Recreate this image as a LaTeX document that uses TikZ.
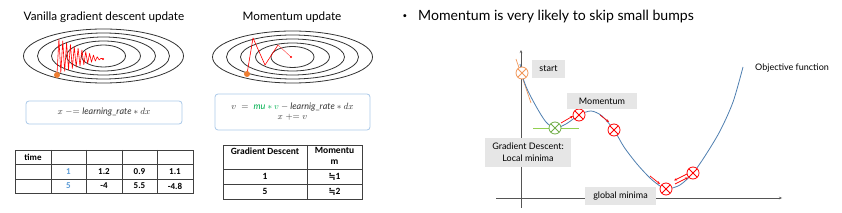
\documentclass[tikz,border=0pt]{standalone}
\usepackage{fontspec}
\setmainfont{Lato}
\newfontfamily\tabfont{Carlito}
\newfontfamily\djv{DejaVu Sans}
\usetikzlibrary{arrows.meta}
\definecolor{curveblue}{HTML}{4F7FB0}
\definecolor{boxblue}{HTML}{A9C8E8}
\definecolor{mgreen}{HTML}{00B050}
\definecolor{ptorange}{HTML}{ED7D31}
\definecolor{lblgray}{HTML}{E6E6E6}
\definecolor{numblue}{HTML}{5B9BD5}
\definecolor{tgreen}{HTML}{92D050}
\definecolor{cgreen}{HTML}{70AD47}
\definecolor{axisgray}{HTML}{555555}
\definecolor{txtgray}{HTML}{333333}
\begin{document}
\begin{tikzpicture}[x=1pt,y=-1pt,
  title/.style={font=\fontsize{11.7}{14}\selectfont, text=black, inner sep=0},
  ell/.style={draw=black!80, line width=0.8pt},
  fbox/.style={draw=boxblue, rounded corners=3pt, line width=0.8pt, align=center,
    font=\fontsize{9}{11}\selectfont, text=txtgray},
  tgrid/.style={draw=black!75, line width=0.8pt},
  tcell/.style={font=\tabfont\bfseries\fontsize{9}{10.5}\selectfont, inner sep=0, align=center},
  lbl/.style={fill=lblgray, font=\fontsize{9}{11}\selectfont, inner sep=0, align=center},
  xm/.style={circle, draw=#1, fill=white, line width=0.8pt, minimum size=12pt, inner sep=0,
    path picture={\draw[#1, line width=0.8pt]
      (path picture bounding box.north west)--(path picture bounding box.south east)
      (path picture bounding box.north east)--(path picture bounding box.south west);}},
  rarr/.style={draw=red, line width=0.7pt, -{Stealth[length=3pt,width=2.5pt]}},
  axis/.style={draw=axisgray, line width=0.6pt, -{Stealth[length=3pt,width=2.5pt]}}
]
\useasboundingbox (0,0) rectangle (842,213);

% titles
\node[title] (t1) at (104,17) {Vanilla gradient descent update};
\node[title] (t2) at (292,17) {Momentum update};
\node[font=\fontsize{8}{10}\selectfont, inner sep=0] (bul) at (405,17) {•};
\node[font=\fontsize{14.1}{17}\selectfont, anchor=west, inner sep=0] (t3) at (418,17) {Momentum is very likely to skip small bumps};

% vanilla ellipses
\foreach \a/\b in {80/27, 66/23, 52/19, 37/15, 22/11}
  \draw[ell] (103.5,56) ellipse [x radius=\a, y radius=\b];
\draw[red, line width=0.6pt, line join=round]
  plot[samples=25, domain=0:24, variable=\i] ({57+46*\i/24}, {56+3*\i/24 + cos(180*\i)*18*(1-\i/24)^1.1});
\fill[ptorange] (57,75) circle [radius=3];
\fill[red] (103,59) circle [radius=1.2];

% momentum ellipses
\foreach \a/\b in {80/26, 66/22, 52/18, 37/14, 21.5/10.5}
  \draw[ell] (292.5,57) ellipse [x radius=\a, y radius=\b];
\draw[red, line width=0.6pt, line join=round] (247,74) -- (253,38) -- (265,65) -- (278,45);
\draw[red!80, line width=0.4pt] (278,45) -- (291,57);
\fill[ptorange] (247,74) circle [radius=3];
\fill[red] (291,57) circle [radius=1.2];

% formula boxes
\node[fbox, minimum width=156pt, minimum height=23pt] (f1) at (104,112.5)
  {$x \mathrel{{-}{=}} \mathit{learning\_rate} * dx$};
\node[fbox, minimum width=155pt, minimum height=36pt] (f2) at (292.5,112)
  {$v \;=\; {\color{mgreen}\mathit{mu} * v} - \mathit{learnig\_rate} * dx$\\[-1pt] $x \mathrel{{+}{=}} v$};

% left table
\draw[tgrid] (15,150) rectangle (193,193);
\foreach \y in {164,179} \draw[tgrid] (15,\y) -- (193,\y);
\foreach \x in {51,86,122,157} \draw[tgrid] (\x,150) -- (\x,193);
\node[tcell] (c11) at (33,157) {time};
\node[tcell, text=numblue] (c22) at (68.5,171.5) {1};
\node[tcell] (c23) at (104,171.5) {1.2};
\node[tcell] (c24) at (139.5,171.5) {0.9};
\node[tcell] (c25) at (175,171.5) {1.1};
\node[tcell, text=numblue] (c32) at (68.5,186) {5};
\node[tcell] (c33) at (104,186) {-4};
\node[tcell] (c34) at (139.5,186) {5.5};
\node[tcell] (c35) at (175,186) {-4.8};

% right table
\draw[tgrid] (223,145) rectangle (362,199);
\foreach \y in {169,184} \draw[tgrid] (223,\y) -- (362,\y);
\draw[tgrid] (307,145) -- (307,199);
\node[tcell, anchor=north, font=\tabfont\bfseries\fontsize{9.5}{11}\selectfont] (d11) at (265,147.5) {Gradient Descent};
\node[tcell, anchor=north, font=\tabfont\bfseries\fontsize{9.5}{11}\selectfont] (d12) at (334.5,147.5) {Momentu\\m};
\node[tcell, font=\tabfont\bfseries\fontsize{9.5}{11}\selectfont] (d21) at (265,176.5) {1};
\node[tcell, font=\tabfont\bfseries\fontsize{9.5}{11}\selectfont] (d22) at (334.5,176.5) {{\djv\fontsize{8.5}{10}\selectfont ≒}1};
\node[tcell, font=\tabfont\bfseries\fontsize{9.5}{11}\selectfont] (d31) at (265,191.5) {5};
\node[tcell, font=\tabfont\bfseries\fontsize{9.5}{11}\selectfont] (d32) at (334.5,191.5) {{\djv\fontsize{8.5}{10}\selectfont ≒}2};

% right plot axes
\coordinate (yb) at (521,208);
\coordinate (yt) at (521,50);
\coordinate (xl) at (496,198);
\coordinate (xr) at (782,198);
\draw[axis] (yb) -- (yt);
\draw[axis] (xl) -- (xr);

% tangents
\coordinate (ot1) at (516,59);
\coordinate (ot2) at (531,103);
\draw[ptorange!80, line width=0.7pt] (ot1) -- (ot2);
\coordinate (gt1) at (533,128);
\coordinate (gt2) at (579,128);
\draw[tgreen, line width=0.7pt] (gt1) -- (gt2);

% curve
\draw[curveblue, line width=0.8pt] plot[smooth, tension=0.5] coordinates {
 (520,64) (523,78) (528,91) (537,108) (546,122) (555,128) (566,124) (579,115)
 (591,111) (602,116) (614,130) (624,147) (637,164) (650,178) (660,186) (667,189)
 (680,185) (693,173) (705,156) (720,131) (733,102) (743,67)};

% markers
\node[xm=ptorange!80] (ms) at (522,73) {};
\node[xm=cgreen] (mg) at (555,128) {};
\node[xm=red] (m1) at (579,115) {};
\node[xm=red] (m2) at (614,130) {};
\node[xm=red] (m3) at (666,189) {};
\node[xm=red] (m4) at (693,173) {};

% red arrows
\coordinate (a1s) at (561,123); \coordinate (a1e) at (573,116);
\draw[rarr] (a1s) -- (a1e);
\coordinate (a2s) at (600,115); \coordinate (a2e) at (609,122);
\draw[rarr] (a2s) -- (a2e);
\coordinate (a3s) at (650,176); \coordinate (a3e) at (660,184);
\draw[rarr] (a3s) -- (a3e);
\coordinate (a4s) at (687,174); \coordinate (a4e) at (674,180.5);
\draw[rarr] (a4s) -- (a4e);
\coordinate (a5s) at (675,184); \coordinate (a5e) at (688,177.5);
\draw[rarr] (a5s) -- (a5e);

% labels
\node[lbl, minimum width=33pt, minimum height=18pt] (ls) at (548.5,69) {start};
\node[lbl, minimum width=70pt, minimum height=16pt] (lm) at (602,101) {Momentum};
\node[lbl, minimum width=86pt, minimum height=29pt, font=\fontsize{9}{12}\selectfont] (lg) at (528,152.5) {Gradient Descent:\\Local minima};
\node[lbl, minimum width=71pt, minimum height=18pt] (lgm) at (620.5,196) {global minima};
\node[font=\fontsize{9}{11}\selectfont, anchor=west, inner sep=0] (lo) at (755,68) {Objective function};
\end{tikzpicture}
\end{document}
